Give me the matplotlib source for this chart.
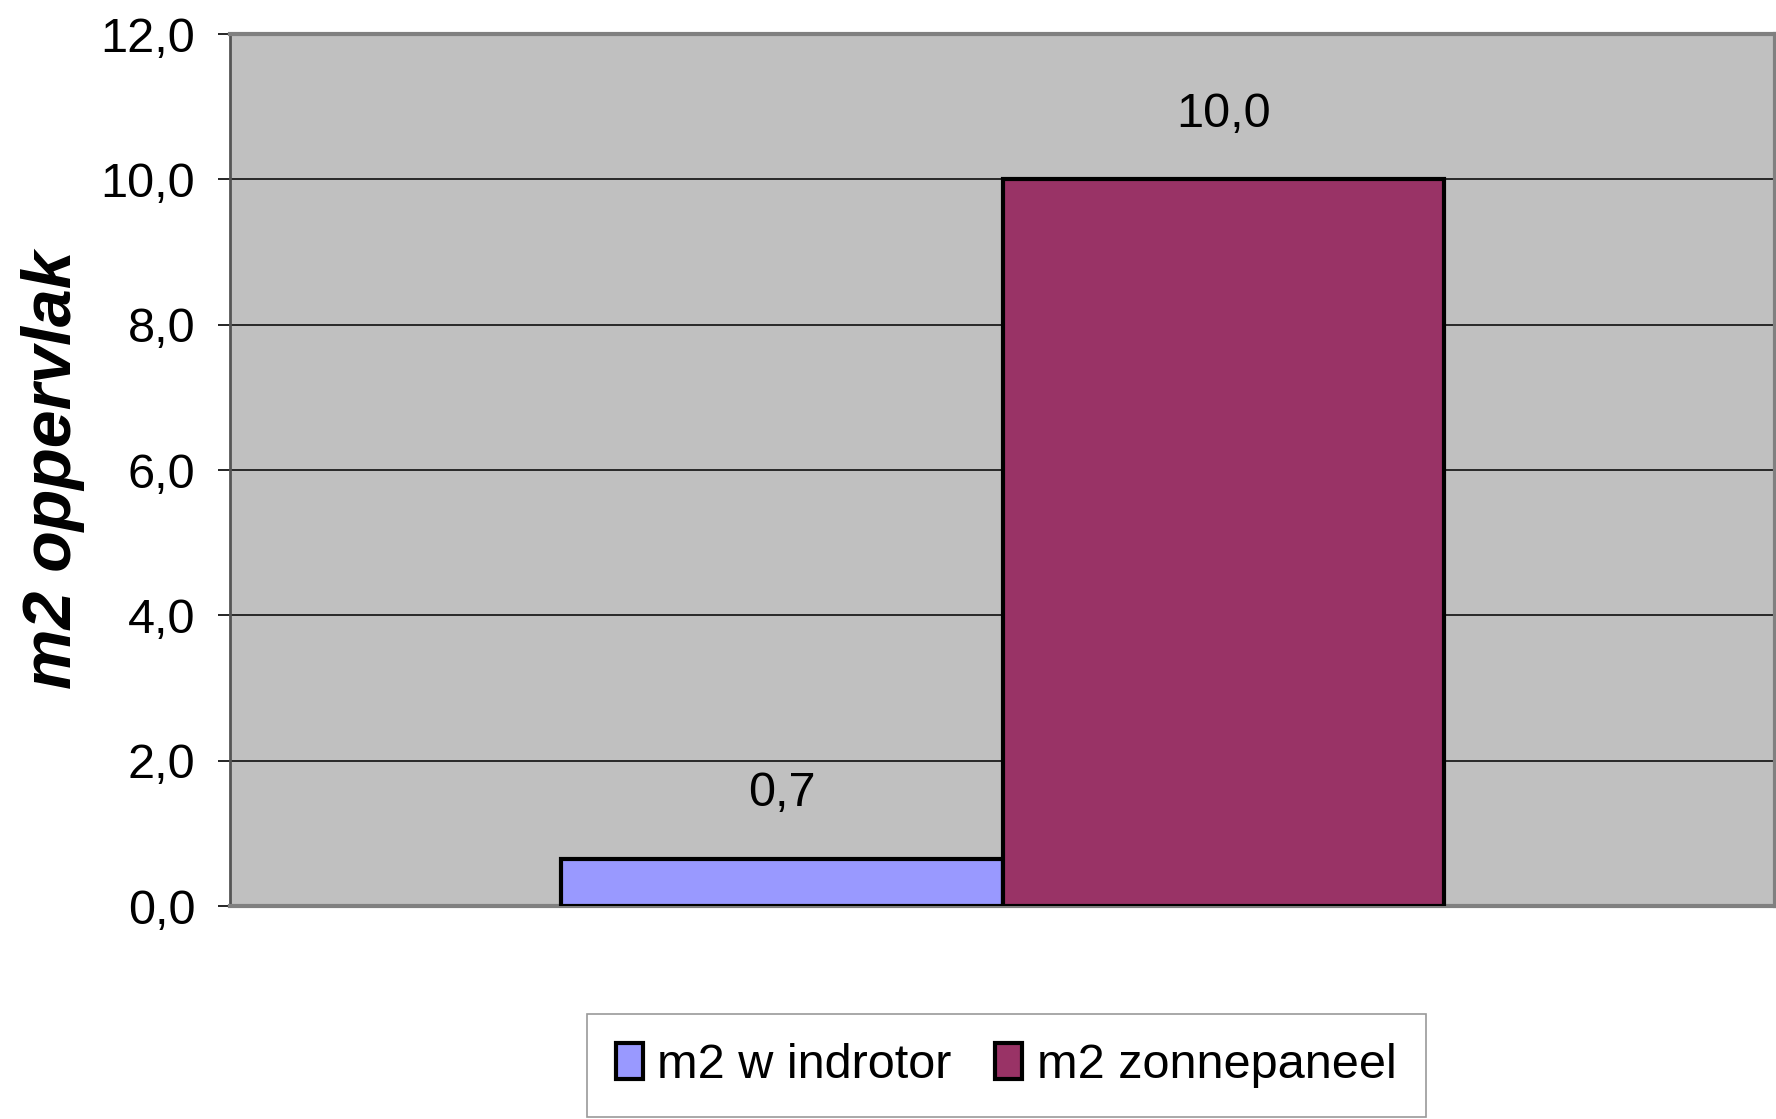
import numpy as np
import matplotlib.pyplot as plt

# data
series = ["m2 w indrotor", "m2 zonnepaneel"]
values = [0.65, 10.0]
colors = ["#9999FF", "#993366"]
yticks = [0, 2, 4, 6, 8, 10, 12]

sans = ["Liberation Sans", "DejaVu Sans"]
fs = 35

fig = plt.figure(figsize=(17.76, 11.19), dpi=100)
ax = fig.add_axes([0.1295, 0.1903, 0.8700, 0.7793])
ax.set_facecolor("#C0C0C0")

# bars side by side in one category
width = 0.286
offsets = (np.arange(len(values)) - (len(values) - 1) / 2) * width
for off, v, c, name in zip(offsets, values, colors, series):
    ax.bar(off, v, width=width, color=c, edgecolor="black", linewidth=3,
           label=name, zorder=3)
    lbl = f"{v:.1f}".replace(".", ",")
    ax.annotate(lbl, (off, v), xytext=(0, 47), textcoords="offset points",
                ha="center", va="center", fontsize=fs, family=sans)

ax.set_xlim(-0.5, 0.5)
ax.set_ylim(0, 12)
ax.set_xticks([])
ax.set_yticks(yticks)
ax.set_yticklabels([f"{t:.1f}".replace(".", ",") for t in yticks],
                   fontsize=fs, family=sans)
ax.tick_params(axis="y", length=9, width=1.2, color="black", pad=16,
               direction="out")

# grid lines
for t in yticks[1:-1]:
    ax.axhline(t, color="black", linewidth=1.1, zorder=1)

for side in ["top", "bottom", "right"]:
    ax.spines[side].set_color("#808080")
    ax.spines[side].set_linewidth(3)
ax.spines["left"].set_color("#555555")
ax.spines["left"].set_linewidth(2)

ax.set_ylabel("m2 oppervlak", fontsize=49, fontweight="bold", style="italic",
              family=sans)
ax.yaxis.set_label_coords(-0.094, 0.50)

leg = fig.legend(loc="upper center", bbox_to_anchor=(0.5665, 0.0938),
                 ncol=2, prop={"family": sans, "size": fs},
                 frameon=True, fancybox=False, edgecolor="#808080",
                 borderaxespad=0, borderpad=0.6, handlelength=0.55,
                 handleheight=0.75, handletextpad=0.3, columnspacing=0.9)
leg.get_frame().set_linewidth(1.2)

fig.savefig("out.png", dpi=100)
